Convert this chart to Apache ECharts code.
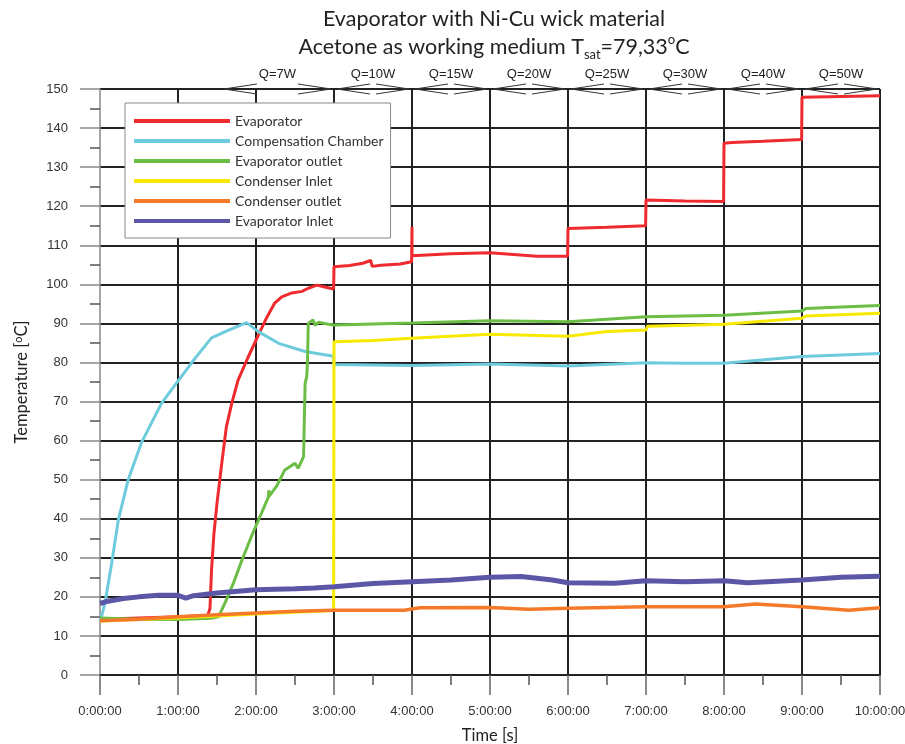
<!DOCTYPE html>
<html>
<head>
<meta charset="utf-8">
<script src="https://cdn.jsdelivr.net/npm/echarts@6/dist/echarts.min.js"></script>
<style>html,body{margin:0;padding:0;background:#fff;}#c{width:905px;height:744px;}</style>
</head>
<body>
<div id="c"></div>
<script>
// ---- data (time in hours, temperature in °C) ----
const seriesNames = ['Evaporator','Compensation Chamber','Evaporator outlet','Condenser Inlet','Condenser outlet','Evaporator Inlet'];
const seriesColors = ['#ee2a2e','#6dcbdc','#6cbd45','#f7ea00','#f47a2a','#5b57a6'];

const evaporator = [[0,14.3],[0.5,14.6],[1.0,14.9],[1.38,15.2],[1.40,15.5],[1.41,17],[1.43,26.9],[1.46,36],[1.50,44],[1.56,54],[1.62,63.5],[1.69,69.6],[1.77,75.5],[1.90,81.4],[2.03,87],[2.14,91.6],[2.24,95.2],[2.33,96.8],[2.46,97.8],[2.59,98.2],[2.67,99],[2.78,99.8],[2.88,99.3],[2.995,98.8],[3.0,104.5],[3.2,104.8],[3.37,105.4],[3.47,106.1],[3.49,104.6],[3.6,104.9],[3.85,105.2],[3.995,105.8],[4.0,114.7],[4.0,107.3],[4.5,107.8],[5.0,108.1],[5.6,107.2],[5.995,107.2],[6.0,114.3],[6.5,114.6],[6.995,115],[7.0,121.6],[7.5,121.3],[7.995,121.2],[8.0,136.1],[8.1,136.3],[8.5,136.6],[8.995,137.1],[9.0,147.9],[9.5,148.1],[10,148.3]];
const compensationChamber = [[0,14],[0.02,15],[0.064,18.4],[0.15,28.7],[0.235,39.7],[0.36,49.9],[0.53,59.4],[0.79,69.6],[0.98,74.7],[1.22,81.1],[1.43,86.3],[1.65,88.3],[1.88,90.2],[2.03,87.9],[2.29,84.9],[2.63,82.8],[2.995,81.6],[3.0,79.5],[4.0,79.2],[5.0,79.6],[6.0,79.1],[7.0,79.9],[7.5,79.8],[8.0,79.8],[9.0,81.5],[10,82.3]];
const evaporatorOutlet = [[0,14.6],[0.5,14.3],[1.0,14.2],[1.42,14.5],[1.52,14.9],[1.62,19.2],[1.71,23.5],[1.82,29.4],[1.94,35.4],[2.07,41.4],[2.16,45.6],[2.165,47.3],[2.17,45.8],[2.26,48.2],[2.37,52.5],[2.5,54.2],[2.54,52.9],[2.61,55.9],[2.62,66],[2.63,74.7],[2.65,76.3],[2.66,80],[2.67,90],[2.73,90.9],[2.76,89.5],[2.8,90.3],[2.93,89.8],[3.0,89.6],[4.0,90.1],[5.0,90.7],[6.0,90.4],[7.0,91.7],[8.0,92.1],[9.0,93.2],[9.05,93.8],[9.5,94.2],[10,94.6]];
const condenserInlet = [[0,13.8],[1.0,14.6],[2.0,15.6],[2.995,16.5],[3.0,85.3],[3.5,85.6],[4.0,86.2],[4.36,86.6],[5.0,87.2],[6.0,86.7],[6.5,87.9],[7.0,88.3],[7.02,89.3],[8.0,89.8],[9.0,91.3],[9.05,91.9],[10,92.6]];
const condenserOutlet = [[0,13.9],[0.5,14.3],[1.0,14.9],[1.5,15.4],[2.0,15.9],[2.5,16.3],[3.0,16.6],[3.9,16.6],[4.1,17.2],[5.0,17.3],[5.5,16.8],[6.0,17.1],[7.0,17.5],[8.0,17.5],[8.4,18.2],[9.0,17.5],[9.6,16.6],[10,17.2]];
const evaporatorInlet = [[0,18.3],[0.1,18.9],[0.3,19.6],[0.5,20.0],[0.75,20.4],[1.0,20.4],[1.1,19.7],[1.2,20.3],[1.5,21.0],[2.0,21.8],[2.5,22.1],[2.75,22.3],[3.0,22.6],[3.5,23.4],[4.0,23.9],[4.5,24.3],[5.0,25.0],[5.4,25.2],[5.8,24.3],[6.0,23.6],[6.6,23.5],[7.0,24.1],[7.5,23.9],[8.0,24.1],[8.3,23.6],[9.0,24.3],[9.5,25.0],[10,25.3]];

// heat-load periods shown above the plot
const qLabels = ['Q=7W','Q=10W','Q=15W','Q=20W','Q=25W','Q=30W','Q=40W','Q=50W'];
const qStart = [1.55,3,4,5,6,7,8,9];
const qEnd   = [3,4,5,6,7,8,9,10];

const xMin = 0, xMax = 10, yMin = 0, yMax = 150;

const allData = [evaporator, compensationChamber, evaporatorOutlet, condenserInlet, condenserOutlet, evaporatorInlet];
const widths = [3, 3, 3, 3, 3.5, 5];

const chart = echarts.init(document.getElementById('c'), null, {renderer:'canvas'});

const lineSeries = seriesNames.map((n, i) => ({
  name: n, type: 'line', data: allData[i], showSymbol: false, symbol: 'none',
  color: seriesColors[i],
  lineStyle: {color: seriesColors[i], width: widths[i]},
  z: 3 + i, animation: false
}));

const qSeries = {
  type: 'custom', name: 'Q', silent: true, clip: false, z: 10, animation: false,
  data: qStart.map((s, i) => [s, qEnd[i], yMax]),
  encode: {x: [0, 1], y: 2},
  renderItem: function (params, api) {
    const a = api.coord([api.value(0), api.value(2)]);
    const b = api.coord([api.value(1), api.value(2)]);
    const y = a[1];
    const x1 = a[0] + 3, x2 = b[0] - 3, L = 33, h = 5;
    return {
      type: 'group',
      children: [
        {type: 'polyline', shape: {points: [[x1 + L, y - h], [x1, y], [x1 + L, y + h]]}, style: {stroke: '#333', lineWidth: 1, fill: null}},
        {type: 'polyline', shape: {points: [[x2 - L, y - h], [x2, y], [x2 - L, y + h]]}, style: {stroke: '#333', lineWidth: 1, fill: null}},
        {type: 'text', style: {text: qLabels[params.dataIndex], x: (a[0] + b[0]) / 2, y: y - 15, align: 'center', verticalAlign: 'middle', font: '13px "Liberation Sans", Arial, sans-serif', fill: '#222'}}
      ]
    };
  }
};

chart.setOption({
  animation: false,
  backgroundColor: '#fff',
  title: {
    text: 'Evaporator with Ni-Cu wick material\nAcetone as working medium T{sub|sat}=79,33{sup|o}C',
    left: 494, top: 5, textAlign: 'center', padding: 0,
    textStyle: {
      fontFamily: 'Lato', fontSize: 21.5, fontWeight: 'normal', color: '#222', lineHeight: 28,
      rich: {
        sub: {fontFamily: 'Lato', fontSize: 13, color: '#222', lineHeight: 12, verticalAlign: 'bottom'},
        sup: {fontFamily: 'Lato', fontSize: 13, color: '#222', lineHeight: 14, verticalAlign: 'top'}
      }
    }
  },
  legend: {
    data: seriesNames, orient: 'vertical', left: 125, top: 103,
    backgroundColor: '#fff', borderColor: '#888', borderWidth: 1, borderRadius: 0,
    padding: [10, 7, 9, 9], itemWidth: 96, itemHeight: 4, itemGap: 4, icon: 'rect',
    textStyle: {fontFamily: 'Lato', fontSize: 14, color: '#333', lineHeight: 16},
    selectedMode: false, z: 20
  },
  grid: {left: 100, right: 25, top: 89, bottom: 69, containLabel: false, outerBoundsMode: 'none'},
  xAxis: {
    type: 'value', min: xMin, max: xMax, interval: 1,
    name: 'Time [s]', nameLocation: 'middle', nameGap: 52,
    nameTextStyle: {fontFamily: 'Lato', fontSize: 16.5, color: '#222'},
    axisLine: {show: true, onZero: false, lineStyle: {color: '#222', width: 2}},
    axisTick: {show: true, length: 20, lineStyle: {color: '#666', width: 1.5}},
    minorTick: {show: true, splitNumber: 2, length: 10, lineStyle: {color: '#555', width: 1.5}},
    axisLabel: {margin: 30, fontFamily: '"Liberation Sans", Arial, sans-serif', fontSize: 13, color: '#333', formatter: v => v + ':00:00'},
    splitLine: {show: true, showMinLine: false, lineStyle: {color: '#222', width: 2}}
  },
  yAxis: {
    type: 'value', min: yMin, max: yMax, interval: 10,
    name: 'Temperature [{sup|o}C]', nameLocation: 'middle', nameGap: 70, nameRotate: 90,
    nameTextStyle: {fontFamily: 'Lato', fontSize: 16.5, color: '#222',
      rich: {sup: {fontFamily: 'Lato', fontSize: 11, color: '#222', lineHeight: 10, verticalAlign: 'top'}}},
    axisLine: {show: true, lineStyle: {color: '#888', width: 1.5}},
    axisTick: {show: true, length: 20, lineStyle: {color: '#888', width: 1.5}},
    minorTick: {show: true, splitNumber: 2, length: 10, lineStyle: {color: '#555', width: 1.5}},
    axisLabel: {margin: 32, fontFamily: '"Liberation Sans", Arial, sans-serif', fontSize: 13, color: '#333'},
    splitLine: {show: true, lineStyle: {color: '#222', width: 2}}
  },
  series: lineSeries.concat([qSeries])
});
</script>
</body>
</html>
